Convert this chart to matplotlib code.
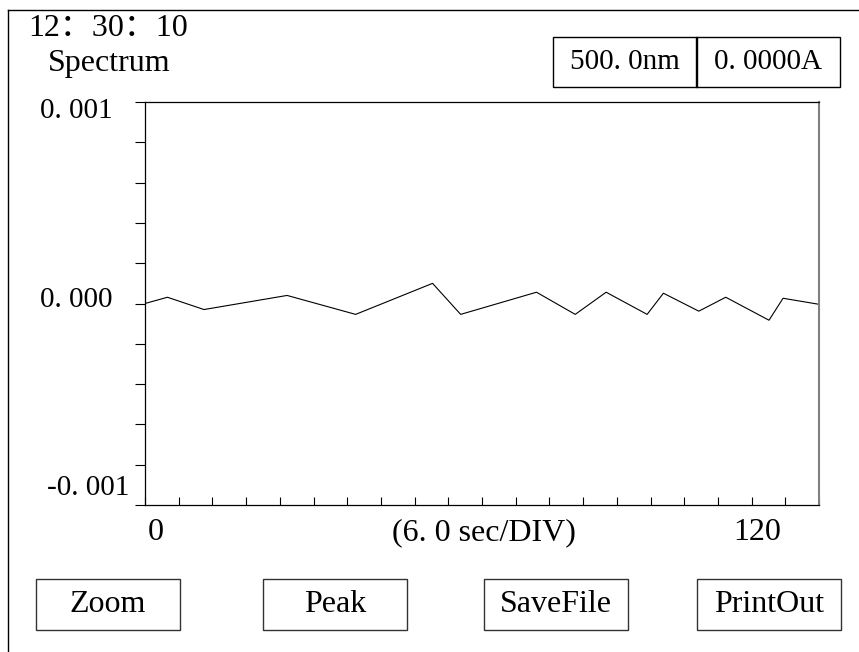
import matplotlib
matplotlib.use("Agg")
import matplotlib.pyplot as plt
from matplotlib.patches import Rectangle
from matplotlib.lines import Line2D
import numpy as np

# trace (seconds, absorbance)
times = [0, 4.0, 10.5, 25.3, 37.5, 51.2, 56.2, 69.7, 76.6, 82.1, 89.4,
         92.3, 98.6, 103.4, 111.1, 113.6, 120]
absorb = [0.0, 0.000031, -0.000030, 0.000040, -0.000054, 0.000100, -0.000054,
          0.000056, -0.000054, 0.000056, -0.000054, 0.000051, -0.000038,
          0.000031, -0.000083, 0.000026, -0.000004]

y_labels = ["0. 001", "0. 000", "-0. 001"]
x_labels = ["0", "(6. 0 sec/DIV)", "120"]
buttons = ["Zoom", "Peak", "SaveFile", "PrintOut"]
clock = "12：30：10"
mode = "Spectrum"
readout = ["500. 0nm", "0. 0000A"]

W, H = 859, 652
FONT = ["Liberation Serif", "Noto Sans CJK SC", "DejaVu Sans"]
FS = 23
FS_SMALL = 21


def fx(px):
    return px / W


def fy(py):
    return 1 - py / H


fig = plt.figure(figsize=(W / 100, H / 100), dpi=100)
fig.patch.set_facecolor("white")

# outer screen border (left and top)
fig.add_artist(Line2D([fx(8), fx(8)], [fy(10), fy(652)], color="black", lw=1))
fig.add_artist(Line2D([fx(8), fx(859)], [fy(10), fy(10)], color="black", lw=1))

ax = fig.add_axes([fx(145), fy(505), fx(819) - fx(145), (505 - 102) / H])
ax.plot(times, absorb, color="black", lw=0.8)
ax.set_xlim(0, 120)
ax.set_ylim(-0.001, 0.001)
ax.set_xticks(np.arange(0, 121, 6))
ax.set_yticks(np.linspace(-0.001, 0.001, 11))
ax.tick_params(axis="x", direction="in", length=6, width=0.8, labelbottom=False)
ax.tick_params(axis="y", direction="out", length=7.5, width=0.8, labelleft=False)
for side in ["left", "bottom", "top"]:
    ax.spines[side].set_linewidth(0.9)
ax.spines["right"].set_color("#808080")
ax.spines["right"].set_linewidth(1.5)

# header texts
fig.text(fx(28), fy(28), clock, family=FONT, fontsize=FS, fontweight="light",
         va="center", ha="left")
fig.text(fx(48), fy(63), mode, family=FONT, fontsize=FS, va="center", ha="left")

# readout boxes
box_x = [553, 696]
for bx, txt in zip(box_x, readout):
    fig.add_artist(Rectangle((fx(bx), fy(87)), fx(144), 50 / H, fill=False,
                             edgecolor="black", lw=1))
    fig.text(fx(bx + 72), fy(62), txt, family=FONT, fontsize=FS_SMALL,
             va="center", ha="center")

# y axis labels
for txt, xr, yc in zip(y_labels, [113, 113, 129], [111, 300, 488]):
    fig.text(fx(xr), fy(yc), txt, family=FONT, fontsize=FS_SMALL,
             va="center", ha="right")

# x axis labels
for txt, xc in zip(x_labels, [156, 484, 757]):
    fig.text(fx(xc), fy(533), txt, family=FONT, fontsize=FS, va="center", ha="center")

# buttons
btn_x = [36, 263, 484, 697]
for bx, txt in zip(btn_x, buttons):
    fig.add_artist(Rectangle((fx(bx), fy(630)), fx(144), 51 / H, fill=False,
                             edgecolor="#333333", lw=1))
    fig.text(fx(bx + 72), fy(604), txt, family=FONT, fontsize=FS,
             va="center", ha="center")

fig.savefig("out.png", dpi=100, facecolor="white")
